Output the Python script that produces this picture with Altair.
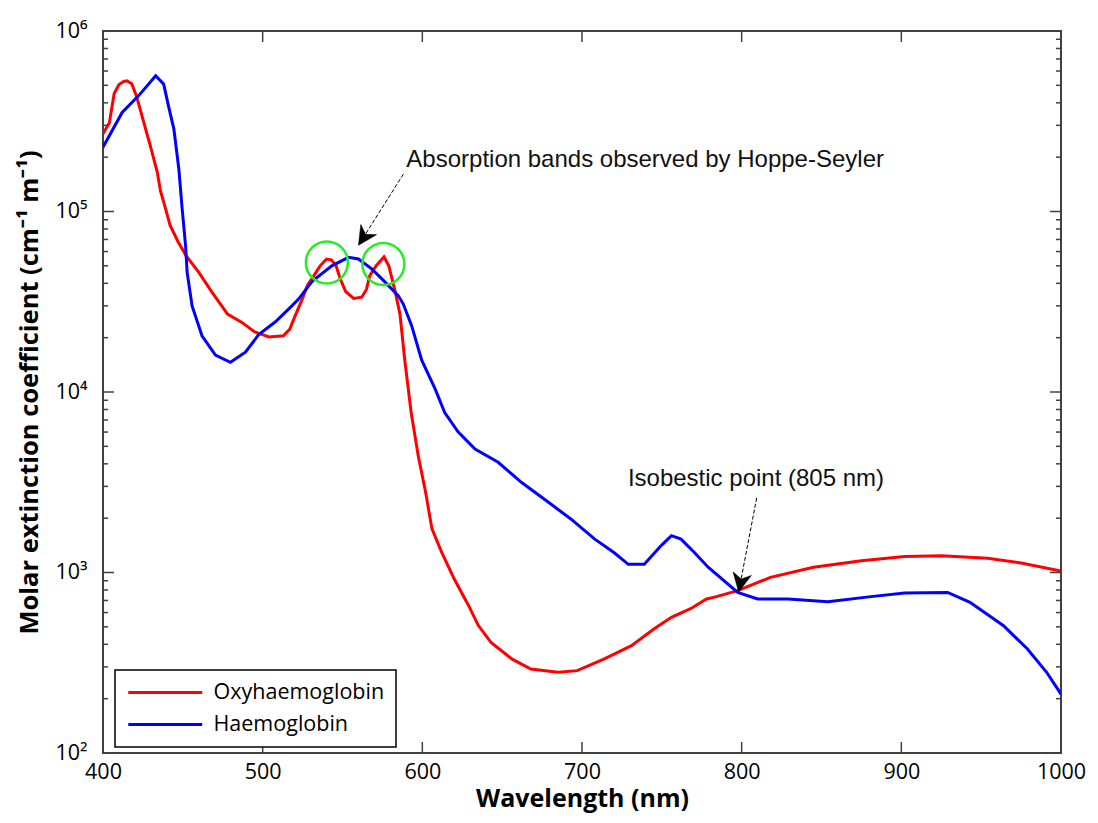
import altair as alt
import pandas as pd

# ---- data ----
oxy_nm = [400, 404, 407, 410, 413, 415, 418, 421, 424, 427, 430, 434, 436, 439, 442, 447,
          452, 460, 468, 478, 487, 495, 504, 513, 517, 520, 525, 528, 532, 536, 540, 543,
          546, 548.5, 552, 557, 562, 565, 567, 571, 576, 579, 581, 583, 586, 589, 593,
          597.5, 602, 606, 612, 620, 629, 635, 643, 656, 668, 685, 697, 714, 731, 745,
          756, 768, 778, 783, 797.5, 818, 845, 875, 902, 925, 954, 975, 1000]
oxy_val = [270000, 310000, 450000, 505000, 525000, 530000, 510000, 435000, 350000, 280000,
           225000, 165000, 130000, 105000, 84000, 68000, 57000, 46000, 36000, 27000, 24300,
           21500, 20200, 20500, 22300, 26000, 33000, 39000, 44000, 50000, 54500, 54000,
           50000, 42500, 36000, 33000, 33500, 37000, 44000, 50000, 56000, 50000, 42500,
           36000, 27000, 15000, 7700, 4400, 2800, 1750, 1300, 920, 655, 510, 410, 332, 292,
           280, 286, 332, 393, 486, 565, 630, 713, 730, 793, 940, 1070, 1160, 1225, 1240,
           1200, 1130, 1020]

hb_nm = [400, 412, 422.5, 433, 438, 441, 444.4, 447.5, 449.6, 451.7, 452.7, 455.8, 462,
         470.4, 479.8, 489.2, 497.5, 508, 518.3, 522.5, 531, 543.3, 553.75, 560, 568.3,
         576.7, 585, 588, 593.3, 599.6, 608, 614, 622.5, 633, 647.5, 662, 679, 693, 708,
         720, 729, 739, 749.6, 756, 762, 770.4, 779, 797.5, 810, 829, 854, 881, 902, 929,
         943, 964, 979, 991, 1000]
hb_val = [227000, 354000, 440000, 565000, 508000, 385000, 286000, 172000, 103000, 65000,
          46000, 30000, 20500, 16000, 14600, 16600, 20800, 24500, 30000, 32700, 41000,
          50000, 55700, 54600, 48100, 40600, 34100, 30800, 23300, 15000, 10400, 7700, 6000,
          4830, 4080, 3160, 2450, 1980, 1530, 1290, 1110, 1110, 1410, 1600, 1530, 1290,
          1070, 776, 713, 713, 689, 735, 770, 776, 683, 507, 377, 280, 212]

series_names = ["Oxyhaemoglobin", "Haemoglobin"]
series_colors = ["#ff0000", "#0000ff"]

x_ticks = [400, 500, 600, 700, 800, 900, 1000]
y_major = [100, 1000, 10000, 100000, 1000000]
minor_mult = [2, 3, 4, 5, 6, 7, 8, 9]
y_minor = [m * d for d in [100, 1000, 10000, 100000] for m in minor_mult]

# annotations (data coordinates)
ann_text = ["Absorption bands observed by Hoppe-Seyler", "Isobestic point (805 nm)"]
ann_text_nm = [590, 728.75]
ann_text_val = [176000, 3010]
arrow_start_nm = [588.1, 809.4]
arrow_start_val = [161000, 2590]
arrow_tip_nm = [560, 798.1]
arrow_tip_val = [65000, 780]
arrow_angle = [213, 191]
circle_nm = [540.2, 575.6]
circle_val = [52200, 51200]

# ---- tables ----
df = pd.concat([
    pd.DataFrame({"nm": oxy_nm, "val": oxy_val, "series": series_names[0]}),
    pd.DataFrame({"nm": hb_nm, "val": hb_val, "series": series_names[1]}),
])
df_xt = pd.DataFrame({"nm": x_ticks})
df_ymaj = pd.DataFrame({"val": y_major})
df_ymin = pd.DataFrame({"val": y_minor})
df_txt = pd.DataFrame({"nm": ann_text_nm, "val": ann_text_val, "t": ann_text})
df_arr = pd.DataFrame({"nm": arrow_start_nm, "val": arrow_start_val,
                       "x1": arrow_tip_nm, "y1": arrow_tip_val, "ang": arrow_angle})
df_head = pd.DataFrame({"nm": arrow_tip_nm, "val": arrow_tip_val, "ang": arrow_angle})
df_circ = pd.DataFrame({"nm": circle_nm, "val": circle_val})

W, H = 958, 722
FRAME = "#404040"
x_scale = alt.Scale(domain=[400, 1000], nice=False, zero=False)
y_scale = alt.Scale(type="log", domain=[100, 1000000], nice=False)

x_axis = alt.Axis(values=x_ticks, format="d", title="Wavelength (nm)", ticks=False,
                  domain=False, grid=False, labelFlush=False, labelFont="Open Sans",
                  labelFontSize=21.5, labelColor="black", labelPadding=8,
                  titleFont="Open Sans", titleFontSize=25, titleFontWeight="bold",
                  titleColor="black", titlePadding=4)
y_axis = alt.Axis(values=y_major, title="Molar extinction coefficient (cm⁻¹ m⁻¹)",
                  ticks=False, domain=False, grid=False, labelFlush=False,
                  labelExpr="'10' + ['⁰','¹','²','³','⁴','⁵','⁶'][round(log(datum.value)/LN10)]",
                  labelFont="Open Sans", labelFontSize=21.5, labelColor="black",
                  labelPadding=16, titleFont="Open Sans", titleFontSize=25.5,
                  titleFontWeight="bold", titleColor="black", titlePadding=12)

X = alt.X("nm:Q", scale=x_scale, axis=x_axis)
Y = alt.Y("val:Q", scale=y_scale, axis=y_axis)

lines = alt.Chart(df).mark_line(strokeWidth=3, clip=True).encode(
    x=X, y=Y,
    color=alt.Color("series:N", sort=series_names,
                    scale=alt.Scale(domain=series_names, range=series_colors),
                    legend=alt.Legend(title=None, orient="none", legendX=12, legendY=639,
                                      direction="vertical", fillColor="white",
                                      strokeColor="black", padding=11.5,
                                      symbolType="M-1,0H7", symbolSize=342,
                                      symbolStrokeWidth=3, labelFont="Open Sans",
                                      labelFontSize=21.5, labelColor="black",
                                      labelOffset=65, rowPadding=10, labelLimit=400)),
)

def yticks(df_, x0, x1):
    return alt.Chart(df_).mark_rule(color=FRAME, strokeWidth=1.5).encode(
        y=Y, x=alt.value(x0), x2=alt.value(x1))

def xticks(y0, y1):
    return alt.Chart(df_xt).mark_rule(color=FRAME, strokeWidth=1.5).encode(
        x=X, y=alt.value(y0), y2=alt.value(y1))

tick_layers = [
    yticks(df_ymaj, 0, 11), yticks(df_ymin, 0, 5),
    yticks(df_ymaj, W - 11, W), yticks(df_ymin, W - 5, W),
    xticks(H - 11, H), xticks(0, 11),
]

texts = alt.Chart(df_txt).mark_text(align="left", baseline="alphabetic", font="Liberation Sans",
                                    fontSize=24, color="#111111").encode(
    x=X, y=Y, text="t:N")

arrow_lines = alt.Chart(df_arr).mark_rule(color="black", strokeWidth=1, strokeDash=[4, 2]).encode(
    x=X, y=Y, x2="x1:Q", y2="y1:Q")

arrow_heads = alt.Chart(df_head).mark_point(
    shape="M0,0 L0.5,1 L0,0.7 L-0.5,1 Z", filled=True, fill="black", stroke="black",
    strokeWidth=0.5, opacity=1, size=1400).encode(
    x=X, y=Y, angle=alt.Angle("ang:Q", scale=None))

circles = alt.Chart(df_circ).mark_point(shape="circle", filled=False, stroke="#22ee22",
                                        strokeWidth=2.5, size=1764, opacity=1).encode(
    x=X, y=Y)

chart = alt.layer(lines, *tick_layers, circles, arrow_lines, arrow_heads, texts).properties(
    width=W, height=H,
    autosize=alt.AutoSizeParams(type="none"),
    padding={"left": 95, "top": 23, "right": 25, "bottom": 61},
).configure_view(stroke=FRAME, strokeWidth=2).configure_legend(strokeWidth=1.5)

chart.save("out.html", embed_options={"renderer": "svg", "actions": False})
